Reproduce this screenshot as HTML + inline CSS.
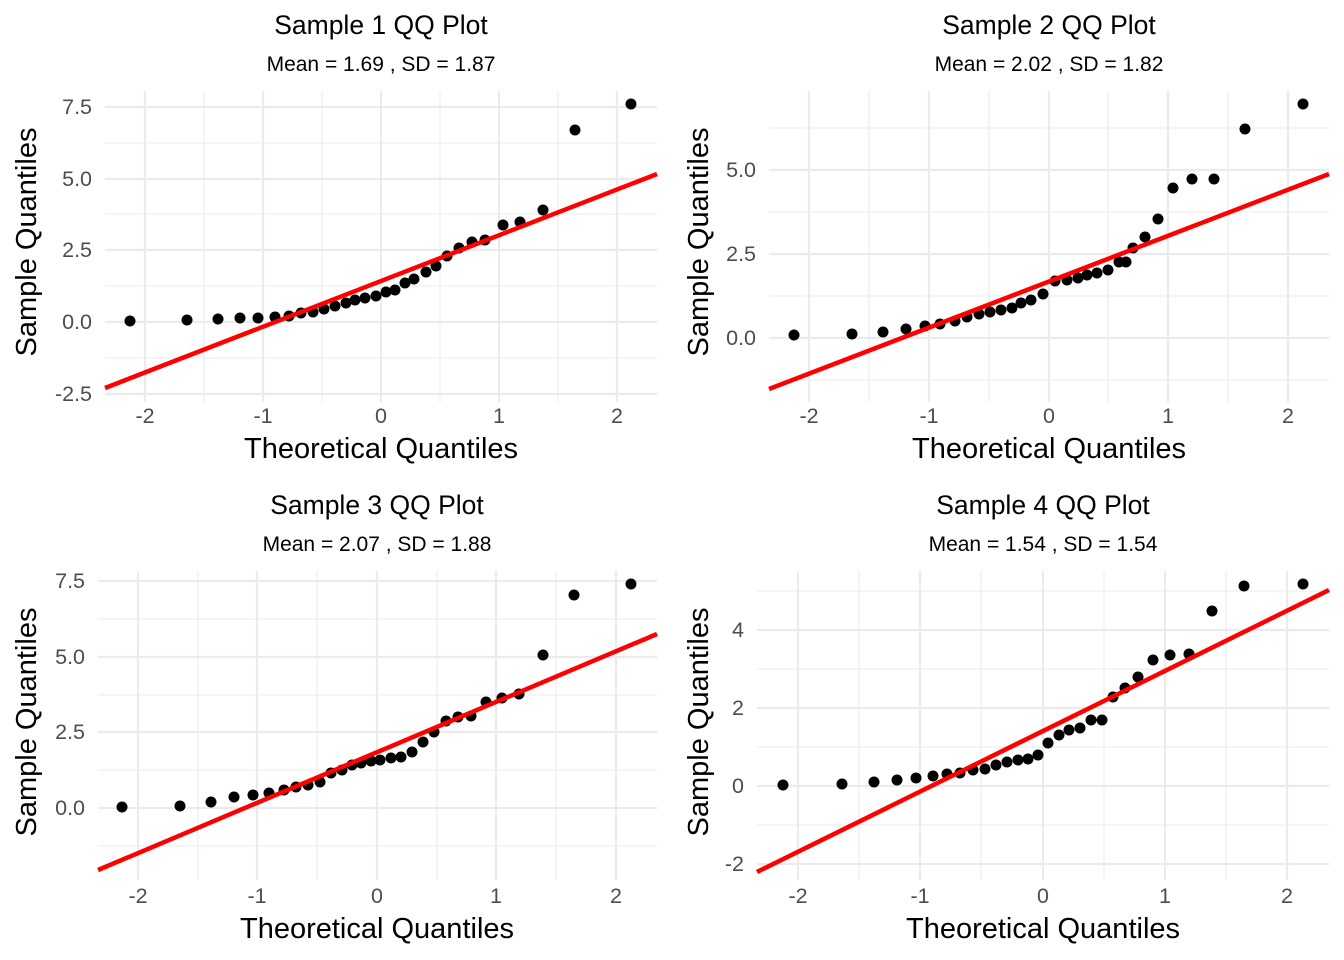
<!DOCTYPE html>
<html><head><meta charset="utf-8"><style>
html,body{margin:0;padding:0;background:#fff;}
svg{display:block;font-family:"Liberation Sans",sans-serif;}
.g1{stroke:#ebebeb;stroke-width:2.2}
.g2{stroke:#ebebeb;stroke-width:1.1}
.tk{fill:#4d4d4d;font-size:21.5px}
.tt{font-size:26.5px;fill:#000;text-anchor:middle}
.st{font-size:21px;fill:#000;text-anchor:middle}
.ax{font-size:29px;fill:#000;text-anchor:middle}
.rl{stroke:#ff0000;stroke-width:4.5}
circle{fill:#000}
</style></head><body>
<svg width="1344" height="960" viewBox="0 0 1344 960">
<!-- Panel 1 -->
<g>
<line class="g2" x1="105" x2="657" y1="143" y2="143"/><line class="g2" x1="105" x2="657" y1="214" y2="214"/><line class="g2" x1="105" x2="657" y1="286" y2="286"/><line class="g2" x1="105" x2="657" y1="358" y2="358"/>
<line class="g2" x1="204" x2="204" y1="91" y2="402"/><line class="g2" x1="322" x2="322" y1="91" y2="402"/><line class="g2" x1="440" x2="440" y1="91" y2="402"/><line class="g2" x1="558" x2="558" y1="91" y2="402"/>
<line class="g1" x1="105" x2="657" y1="107" y2="107"/><line class="g1" x1="105" x2="657" y1="179" y2="179"/><line class="g1" x1="105" x2="657" y1="250" y2="250"/><line class="g1" x1="105" x2="657" y1="322" y2="322"/><line class="g1" x1="105" x2="657" y1="394" y2="394"/>
<line class="g1" x1="145" x2="145" y1="91" y2="402"/><line class="g1" x1="263" x2="263" y1="91" y2="402"/><line class="g1" x1="381" x2="381" y1="91" y2="402"/><line class="g1" x1="499" x2="499" y1="91" y2="402"/><line class="g1" x1="617" x2="617" y1="91" y2="402"/>
<g>
<circle cx="130" cy="321" r="5.5"/><circle cx="187" cy="320" r="5.5"/><circle cx="218" cy="319" r="5.5"/><circle cx="240" cy="318" r="5.5"/><circle cx="258" cy="318" r="5.5"/><circle cx="275" cy="317" r="5.5"/><circle cx="289" cy="316" r="5.5"/><circle cx="301" cy="313" r="5.5"/><circle cx="313" cy="312" r="5.5"/><circle cx="324" cy="309" r="5.5"/><circle cx="335" cy="306" r="5.5"/><circle cx="346" cy="303" r="5.5"/><circle cx="355" cy="300" r="5.5"/><circle cx="365" cy="298" r="5.5"/><circle cx="376" cy="296" r="5.5"/><circle cx="386" cy="292" r="5.5"/><circle cx="395" cy="290" r="5.5"/><circle cx="405" cy="283" r="5.5"/><circle cx="414" cy="279" r="5.5"/><circle cx="426" cy="272" r="5.5"/><circle cx="436" cy="266" r="5.5"/><circle cx="447" cy="256" r="5.5"/><circle cx="459" cy="248" r="5.5"/><circle cx="472" cy="242" r="5.5"/><circle cx="485" cy="240" r="5.5"/><circle cx="503" cy="225" r="5.5"/><circle cx="520" cy="222" r="5.5"/><circle cx="543" cy="210" r="5.5"/><circle cx="575" cy="130" r="5.5"/><circle cx="631" cy="104" r="5.5"/>
</g>
<line class="rl" x1="105" y1="388" x2="657" y2="174"/>
<text class="tk" x="92" y="114" text-anchor="end">7.5</text><text class="tk" x="92" y="186" text-anchor="end">5.0</text><text class="tk" x="92" y="257" text-anchor="end">2.5</text><text class="tk" x="92" y="329" text-anchor="end">0.0</text><text class="tk" x="92" y="401" text-anchor="end">-2.5</text>
<text class="tk" x="145" y="423" text-anchor="middle">-2</text><text class="tk" x="263" y="423" text-anchor="middle">-1</text><text class="tk" x="381" y="423" text-anchor="middle">0</text><text class="tk" x="499" y="423" text-anchor="middle">1</text><text class="tk" x="617" y="423" text-anchor="middle">2</text>
<text class="tt" x="381" y="34">Sample 1 QQ Plot</text>
<text class="st" x="381" y="71">Mean = 1.69 , SD = 1.87</text>
<text class="ax" x="381" y="458">Theoretical Quantiles</text>
<text class="ax" transform="translate(36,242) rotate(-90)">Sample Quantiles</text>
</g>
<!-- Panel 2 -->
<g>
<line class="g2" x1="769" x2="1329" y1="128" y2="128"/><line class="g2" x1="769" x2="1329" y1="212" y2="212"/><line class="g2" x1="769" x2="1329" y1="296" y2="296"/><line class="g2" x1="769" x2="1329" y1="380" y2="380"/>
<line class="g2" x1="869" x2="869" y1="91" y2="402"/><line class="g2" x1="989" x2="989" y1="91" y2="402"/><line class="g2" x1="1108" x2="1108" y1="91" y2="402"/><line class="g2" x1="1228" x2="1228" y1="91" y2="402"/>
<line class="g1" x1="769" x2="1329" y1="170" y2="170"/><line class="g1" x1="769" x2="1329" y1="254" y2="254"/><line class="g1" x1="769" x2="1329" y1="338" y2="338"/>
<line class="g1" x1="809" x2="809" y1="91" y2="402"/><line class="g1" x1="929" x2="929" y1="91" y2="402"/><line class="g1" x1="1049" x2="1049" y1="91" y2="402"/><line class="g1" x1="1168" x2="1168" y1="91" y2="402"/><line class="g1" x1="1288" x2="1288" y1="91" y2="402"/>
<g>
<circle cx="794" cy="335" r="5.5"/><circle cx="852" cy="334" r="5.5"/><circle cx="883" cy="332" r="5.5"/><circle cx="906" cy="329" r="5.5"/><circle cx="925" cy="326" r="5.5"/><circle cx="940" cy="324" r="5.5"/><circle cx="955" cy="321" r="5.5"/><circle cx="967" cy="317" r="5.5"/><circle cx="979" cy="314" r="5.5"/><circle cx="990" cy="312" r="5.5"/><circle cx="1001" cy="310" r="5.5"/><circle cx="1012" cy="308" r="5.5"/><circle cx="1021" cy="303" r="5.5"/><circle cx="1031" cy="300" r="5.5"/><circle cx="1043" cy="294" r="5.5"/><circle cx="1055" cy="281" r="5.5"/><circle cx="1067" cy="280" r="5.5"/><circle cx="1078" cy="278" r="5.5"/><circle cx="1087" cy="275" r="5.5"/><circle cx="1097" cy="273" r="5.5"/><circle cx="1108" cy="270" r="5.5"/><circle cx="1119" cy="262" r="5.5"/><circle cx="1126" cy="262" r="5.5"/><circle cx="1133" cy="248" r="5.5"/><circle cx="1145" cy="237" r="5.5"/><circle cx="1158" cy="219" r="5.5"/><circle cx="1173" cy="188" r="5.5"/><circle cx="1192" cy="179" r="5.5"/><circle cx="1214" cy="179" r="5.5"/><circle cx="1245" cy="129" r="5.5"/><circle cx="1303" cy="104" r="5.5"/>
</g>
<line class="rl" x1="769" y1="389" x2="1329" y2="174"/>
<text class="tk" x="756" y="177" text-anchor="end">5.0</text><text class="tk" x="756" y="261" text-anchor="end">2.5</text><text class="tk" x="756" y="345" text-anchor="end">0.0</text>
<text class="tk" x="809" y="423" text-anchor="middle">-2</text><text class="tk" x="929" y="423" text-anchor="middle">-1</text><text class="tk" x="1049" y="423" text-anchor="middle">0</text><text class="tk" x="1168" y="423" text-anchor="middle">1</text><text class="tk" x="1288" y="423" text-anchor="middle">2</text>
<text class="tt" x="1049" y="34">Sample 2 QQ Plot</text>
<text class="st" x="1049" y="71">Mean = 2.02 , SD = 1.82</text>
<text class="ax" x="1049" y="458">Theoretical Quantiles</text>
<text class="ax" transform="translate(708,242) rotate(-90)">Sample Quantiles</text>
</g>
<!-- Panel 3 -->
<g>
<line class="g2" x1="98" x2="657" y1="619" y2="619"/><line class="g2" x1="98" x2="657" y1="695" y2="695"/><line class="g2" x1="98" x2="657" y1="770" y2="770"/><line class="g2" x1="98" x2="657" y1="846" y2="846"/>
<line class="g2" x1="198" x2="198" y1="571" y2="880"/><line class="g2" x1="317" x2="317" y1="571" y2="880"/><line class="g2" x1="437" x2="437" y1="571" y2="880"/><line class="g2" x1="556" x2="556" y1="571" y2="880"/>
<line class="g1" x1="98" x2="657" y1="581" y2="581"/><line class="g1" x1="98" x2="657" y1="657" y2="657"/><line class="g1" x1="98" x2="657" y1="732" y2="732"/><line class="g1" x1="98" x2="657" y1="808" y2="808"/>
<line class="g1" x1="138" x2="138" y1="571" y2="880"/><line class="g1" x1="257" x2="257" y1="571" y2="880"/><line class="g1" x1="377" x2="377" y1="571" y2="880"/><line class="g1" x1="496" x2="496" y1="571" y2="880"/><line class="g1" x1="616" x2="616" y1="571" y2="880"/>
<g>
<circle cx="122" cy="807" r="5.5"/><circle cx="180" cy="806" r="5.5"/><circle cx="211" cy="802" r="5.5"/><circle cx="234" cy="797" r="5.5"/><circle cx="253" cy="795" r="5.5"/><circle cx="269" cy="793" r="5.5"/><circle cx="284" cy="790" r="5.5"/><circle cx="296" cy="787" r="5.5"/><circle cx="308" cy="785" r="5.5"/><circle cx="320" cy="782" r="5.5"/><circle cx="331" cy="773" r="5.5"/><circle cx="342" cy="770" r="5.5"/><circle cx="352" cy="765" r="5.5"/><circle cx="361" cy="763" r="5.5"/><circle cx="371" cy="761" r="5.5"/><circle cx="380" cy="760" r="5.5"/><circle cx="391" cy="758" r="5.5"/><circle cx="401" cy="757" r="5.5"/><circle cx="412" cy="752" r="5.5"/><circle cx="423" cy="742" r="5.5"/><circle cx="434" cy="732" r="5.5"/><circle cx="446" cy="721" r="5.5"/><circle cx="458" cy="717" r="5.5"/><circle cx="471" cy="716" r="5.5"/><circle cx="486" cy="702" r="5.5"/><circle cx="502" cy="698" r="5.5"/><circle cx="519" cy="694" r="5.5"/><circle cx="543" cy="655" r="5.5"/><circle cx="574" cy="595" r="5.5"/><circle cx="631" cy="584" r="5.5"/>
</g>
<line class="rl" x1="98" y1="870" x2="657" y2="634"/>
<text class="tk" x="85" y="588" text-anchor="end">7.5</text><text class="tk" x="85" y="664" text-anchor="end">5.0</text><text class="tk" x="85" y="739" text-anchor="end">2.5</text><text class="tk" x="85" y="815" text-anchor="end">0.0</text>
<text class="tk" x="138" y="903" text-anchor="middle">-2</text><text class="tk" x="257" y="903" text-anchor="middle">-1</text><text class="tk" x="377" y="903" text-anchor="middle">0</text><text class="tk" x="496" y="903" text-anchor="middle">1</text><text class="tk" x="616" y="903" text-anchor="middle">2</text>
<text class="tt" x="377" y="514">Sample 3 QQ Plot</text>
<text class="st" x="377" y="551">Mean = 2.07 , SD = 1.88</text>
<text class="ax" x="377" y="938">Theoretical Quantiles</text>
<text class="ax" transform="translate(36,722) rotate(-90)">Sample Quantiles</text>
</g>
<!-- Panel 4 -->
<g>
<line class="g2" x1="757" x2="1329" y1="591" y2="591"/><line class="g2" x1="757" x2="1329" y1="669" y2="669"/><line class="g2" x1="757" x2="1329" y1="747" y2="747"/><line class="g2" x1="757" x2="1329" y1="825" y2="825"/>
<line class="g2" x1="859" x2="859" y1="571" y2="880"/><line class="g2" x1="981" x2="981" y1="571" y2="880"/><line class="g2" x1="1104" x2="1104" y1="571" y2="880"/><line class="g2" x1="1226" x2="1226" y1="571" y2="880"/>
<line class="g1" x1="757" x2="1329" y1="630" y2="630"/><line class="g1" x1="757" x2="1329" y1="708" y2="708"/><line class="g1" x1="757" x2="1329" y1="786" y2="786"/><line class="g1" x1="757" x2="1329" y1="864" y2="864"/>
<line class="g1" x1="798" x2="798" y1="571" y2="880"/><line class="g1" x1="920" x2="920" y1="571" y2="880"/><line class="g1" x1="1043" x2="1043" y1="571" y2="880"/><line class="g1" x1="1165" x2="1165" y1="571" y2="880"/><line class="g1" x1="1287" x2="1287" y1="571" y2="880"/>
<g>
<circle cx="783" cy="785" r="5.5"/><circle cx="842" cy="784" r="5.5"/><circle cx="874" cy="782" r="5.5"/><circle cx="897" cy="780" r="5.5"/><circle cx="916" cy="778" r="5.5"/><circle cx="933" cy="776" r="5.5"/><circle cx="947" cy="774" r="5.5"/><circle cx="960" cy="773" r="5.5"/><circle cx="973" cy="770" r="5.5"/><circle cx="985" cy="769" r="5.5"/><circle cx="996" cy="765" r="5.5"/><circle cx="1007" cy="762" r="5.5"/><circle cx="1018" cy="760" r="5.5"/><circle cx="1028" cy="759" r="5.5"/><circle cx="1038" cy="755" r="5.5"/><circle cx="1048" cy="743" r="5.5"/><circle cx="1059" cy="735" r="5.5"/><circle cx="1069" cy="730" r="5.5"/><circle cx="1080" cy="728" r="5.5"/><circle cx="1091" cy="720" r="5.5"/><circle cx="1102" cy="720" r="5.5"/><circle cx="1113" cy="697" r="5.5"/><circle cx="1125" cy="688" r="5.5"/><circle cx="1138" cy="677" r="5.5"/><circle cx="1153" cy="660" r="5.5"/><circle cx="1170" cy="655" r="5.5"/><circle cx="1189" cy="654" r="5.5"/><circle cx="1212" cy="611" r="5.5"/><circle cx="1244" cy="586" r="5.5"/><circle cx="1303" cy="584" r="5.5"/>
</g>
<line class="rl" x1="757" y1="872" x2="1329" y2="590"/>
<text class="tk" x="744" y="637" text-anchor="end">4</text><text class="tk" x="744" y="715" text-anchor="end">2</text><text class="tk" x="744" y="793" text-anchor="end">0</text><text class="tk" x="744" y="871" text-anchor="end">-2</text>
<text class="tk" x="798" y="903" text-anchor="middle">-2</text><text class="tk" x="920" y="903" text-anchor="middle">-1</text><text class="tk" x="1043" y="903" text-anchor="middle">0</text><text class="tk" x="1165" y="903" text-anchor="middle">1</text><text class="tk" x="1287" y="903" text-anchor="middle">2</text>
<text class="tt" x="1043" y="514">Sample 4 QQ Plot</text>
<text class="st" x="1043" y="551">Mean = 1.54 , SD = 1.54</text>
<text class="ax" x="1043" y="938">Theoretical Quantiles</text>
<text class="ax" transform="translate(708,722) rotate(-90)">Sample Quantiles</text>
</g>
</svg>
</body></html>
